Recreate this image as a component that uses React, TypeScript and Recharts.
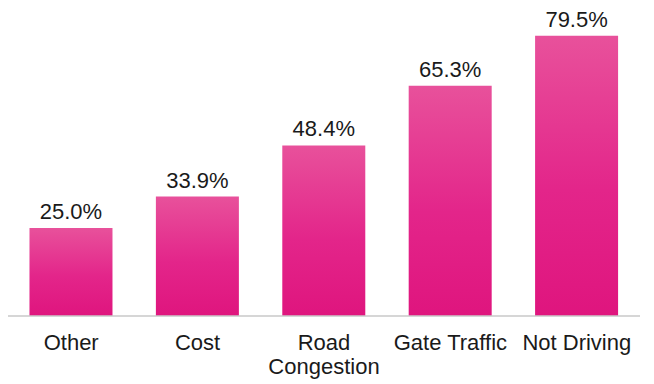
import { Bar, BarChart, LabelList, XAxis, YAxis } from "recharts";

const categories = ["Other", "Cost", "Road Congestion", "Gate Traffic", "Not Driving"];
const shares = [25.0, 33.9, 48.4, 65.3, 79.5];
const tickLines: Record<string, string[]> = {
  Other: ["Other"],
  Cost: ["Cost"],
  "Road Congestion": ["Road", "Congestion"],
  "Gate Traffic": ["Gate Traffic"],
  "Not Driving": ["Not Driving"],
};

const data = categories.map((name, i) => ({ name, value: shares[i] }));

const font = "'Liberation Sans', Arial, sans-serif";

function WrappedTick({ x, y, payload }: any) {
  const lines = tickLines[payload.value] ?? [payload.value];
  return (
    <text x={x} y={y} textAnchor="middle" fill="#1a1a1a" fontSize={22} fontFamily={font}>
      {lines.map((line, i) => (
        <tspan key={line} x={x} dy={i === 0 ? 26 : 24}>
          {line}
        </tspan>
      ))}
    </text>
  );
}

export default function App() {
  return (
    <div style={{ width: 646, height: 376 }}>
      <BarChart
        width={646}
        height={376}
        data={data}
        margin={{ top: 26, right: 14, bottom: 8, left: 0 }}
        barCategoryGap="17%"
      >
        <defs>
          <linearGradient id="pinkFill" x1="0" y1="0" x2="0" y2="1">
            <stop offset="0%" stopColor="#E8519B" />
            <stop offset="55%" stopColor="#E3258A" />
            <stop offset="100%" stopColor="#DF157E" />
          </linearGradient>
        </defs>
        <XAxis
          dataKey="name"
          height={60}
          interval={0}
          tickLine={false}
          axisLine={{ stroke: "#C8C8C8", strokeWidth: 1.5 }}
          tick={<WrappedTick />}
        />
        <YAxis hide domain={[0, 80]} />
        <Bar dataKey="value" fill="url(#pinkFill)" isAnimationActive={false}>
          <LabelList
            dataKey="value"
            position="top"
            offset={9}
            formatter={(v: any) => `${Number(v).toFixed(1)}%`}
            style={{ fontSize: 22, fill: "#1a1a1a", fontFamily: font }}
          />
        </Bar>
      </BarChart>
    </div>
  );
}
